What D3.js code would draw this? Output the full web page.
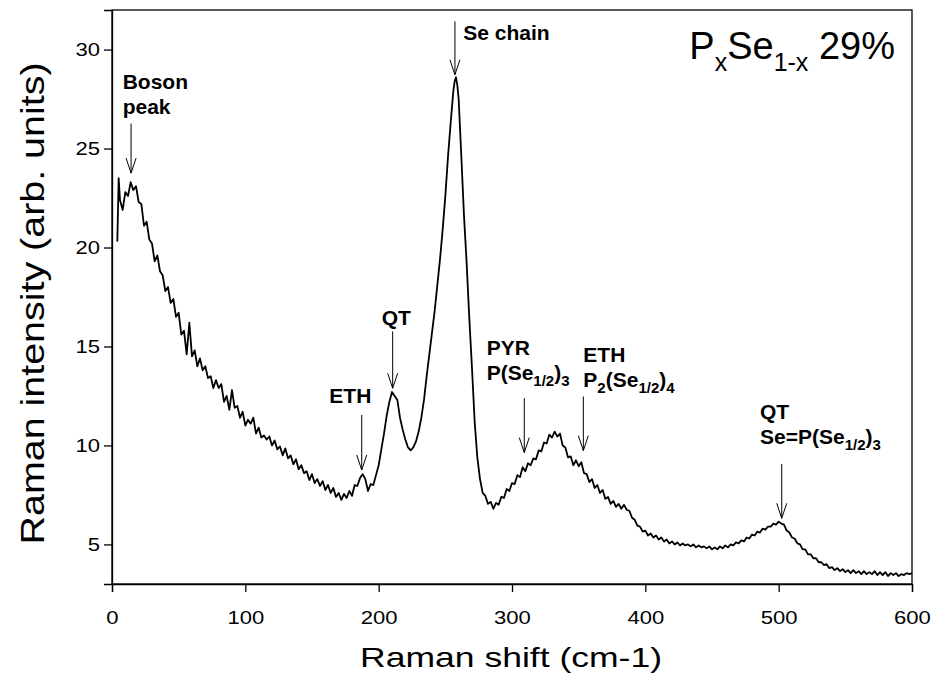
<!DOCTYPE html>
<html><head><meta charset="utf-8">
<script src="https://cdn.jsdelivr.net/npm/d3@7"></script>
<style>body{margin:0;background:#fff}</style>
</head><body>
<svg id="chart" width="936" height="696"></svg>
<script>
// ---- data ----
const ramanShift = [4,5,6,8,10,12,14,16,18,20,22,24,26,28,30,32,34,36,38,40,42,44,46,48,50,52,54,56,58,60,
62,64,66,68,70,72,74,76,78,80,82,84,86,88,90,92,94,96,98,100,102,104,106,108,110,112,114,116,118,120,
122,124,126,128,130,132,134,136,138,140,142,144,146,148,150,152,154,156,158,160,162,164,166,168,170,172,174,176,178,180,
182,184,186,188,190,192,194,196,198,200,202,204,206,208,210,212,214,216,218,220,222,224,226,228,230,232,234,236,238,240,
242,244,246,248,250,252,254,256,257,258,259,260,262,264,266,268,270,272,274,276,278,280,282,284,286,288,290,292,294,296,298,300,
302,304,306,308,310,312,314,316,318,320,322,324,326,328,330,332,334,336,338,340,342,344,346,348,350,352,354,356,358,360,
362,364,366,368,370,372,374,376,378,380,382,384,386,388,390,392,394,396,398,400,402,404,406,408,410,412,414,416,418,420,
422,424,426,428,430,432,434,436,438,440,442,444,446,448,450,452,454,456,458,460,462,464,466,468,470,472,474,476,478,480,
482,484,486,488,490,492,494,496,498,500,502,504,506,508,510,512,514,516,518,520,522,524,526,528,530,532,534,536,538,540,
542,544,546,548,550,552,554,556,558,560,562,564,566,568,570,572,574,576,578,580,582,584,586,588,590,592,594,596,598,600];
const intensity = [20.3,23.5,22.4,21.9,22.8,22.6,23.3,22.9,23.1,22.3,22.2,21.1,21.3,20.4,20.2,19.3,19.6,18.8,18.6,17.8,18.0,17.2,17.4,16.5,16.7,15.6,15.8,14.6,16.2,14.5,
14.8,14.0,14.4,13.8,14.0,13.4,13.5,12.9,13.3,12.9,13.1,12.2,12.5,11.8,12.8,11.9,12.0,11.4,11.7,11.0,11.3,11.1,11.4,10.6,10.9,10.4,10.5,10.3,10.45,10.0,
10.25,9.8,9.95,9.5,9.85,9.35,9.5,9.05,9.3,8.8,9.0,8.6,8.7,8.25,8.55,8.1,8.3,7.95,8.2,7.75,8.0,7.6,7.85,7.4,7.6,7.25,7.55,7.35,7.7,7.45,
8.0,7.95,8.35,8.55,8.3,7.7,8.05,8.0,8.5,9.0,9.8,10.6,11.5,12.2,12.7,12.5,12.3,11.4,10.8,10.3,9.9,9.75,9.9,10.2,10.7,11.4,12.3,13.5,14.6,15.7,
16.8,18.1,19.4,20.9,22.6,24.6,26.3,27.9,28.4,28.6,28.2,27.5,24.6,21.6,19.2,16.4,13.9,11.2,9.4,8.3,7.6,7.45,7.05,7.15,6.8,7.1,7.0,7.4,7.35,7.8,7.7,8.1,
8.05,8.5,8.4,8.9,8.7,9.1,9.0,9.35,9.3,9.75,9.7,10.15,10.1,10.55,10.4,10.7,10.45,10.6,10.0,9.9,9.4,9.45,9.0,9.25,8.95,9.15,8.6,8.55,8.15,8.3,
7.85,8.0,7.6,7.75,7.3,7.4,7.05,7.2,6.9,7.05,6.8,7.0,6.75,6.7,6.35,6.25,5.95,5.9,5.65,5.7,5.45,5.55,5.35,5.45,5.25,5.35,5.15,5.25,5.05,5.15,
5.0,5.1,4.95,5.05,4.95,5.0,4.9,5.0,4.85,4.95,4.85,4.9,4.8,4.9,4.75,4.85,4.75,4.9,4.8,4.95,4.85,5.0,4.95,5.1,5.05,5.2,5.15,5.35,5.3,5.5,
5.45,5.65,5.6,5.8,5.75,5.9,5.9,6.05,6.0,6.15,6.05,6.0,5.7,5.6,5.35,5.3,5.05,5.0,4.75,4.75,4.5,4.5,4.3,4.3,4.1,4.1,3.95,4.0,3.8,3.85,
3.7,3.8,3.65,3.75,3.6,3.7,3.55,3.7,3.55,3.65,3.5,3.65,3.5,3.6,3.5,3.65,3.45,3.6,3.45,3.6,3.4,3.55,3.45,3.55,3.4,3.5,3.45,3.55,3.5,3.55];

const xTicks = [0,100,200,300,400,500,600];
const yTicks = [5,10,15,20,25,30];
const xTitle = "Raman shift (cm-1)";
const yTitle = "Raman intensity (arb. units)";
// title segments: [text, isSubscript]
const titleParts = [["P",false],["x",true],["Se",false],["1-x",true],[" 29%",false]];

// annotations: label lines (segments [text, isSub]), text anchor & arrow in data units
const annotations = [
  {lines:[[["Boson",false]],[["peak",false]]], tx:8.0, ty:28.0, ax:14.3, aTop:26.26, aTip:23.76},
  {lines:[[["Se chain",false]]], tx:263.5, ty:30.5, ax:257.2, aTop:31.43, aTip:28.73},
  {lines:[[["QT",false]]], tx:202.3, ty:16.09, ax:210.5, aTop:15.76, aTip:12.89},
  {lines:[[["ETH",false]]], tx:163.0, ty:12.14, ax:187.3, aTop:11.54, aTip:8.76},
  {lines:[[["PYR",false]],[["P(Se",false],["1/2",true],[")",false],["3",true]]], tx:281.0, ty:14.58, ax:309.2, aTop:12.39, aTip:9.64},
  {lines:[[["ETH",false]],[["P",false],["2",true],["(Se",false],["1/2",true],[")",false],["4",true]]], tx:353.5, ty:14.24, ax:353.5, aTop:12.47, aTip:9.74},
  {lines:[[["QT",false]],[["Se=P(Se",false],["1/2",true],[")",false],["3",true]]], tx:486.0, ty:11.33, ax:502.3, aTop:9.07, aTip:6.32}
];

// ---- drawing ----
const svg = d3.select("#chart");
const pLeft = 112, pRight = 912, pTop = 10, pBottom = 584;
const x = d3.scaleLinear().domain([0,600]).range([pLeft,pRight]);
const y = d3.scaleLinear().domain([3,32]).range([pBottom,pTop]);
const FONT = "Liberation Sans, Arial, Helvetica, sans-serif";

// frame
svg.append("rect").attr("x",pLeft).attr("y",pTop).attr("width",pRight-pLeft).attr("height",pBottom-pTop)
  .attr("fill","none").attr("stroke","#000").attr("stroke-width",1.3);

// axes
const xAxis = svg.append("g").attr("transform",`translate(0,${pBottom})`)
  .call(d3.axisBottom(x).tickValues(xTicks).tickSize(8).tickPadding(19).tickFormat(d3.format("d")));
const yAxis = svg.append("g").attr("transform",`translate(${pLeft},0)`)
  .call(d3.axisLeft(y).tickValues(yTicks).tickSize(8).tickPadding(4).tickFormat(d3.format("d")));
[xAxis,yAxis].forEach(g=>{
  g.select(".domain").attr("stroke","#000").attr("stroke-width",1.3);
  g.selectAll(".tick line").attr("stroke","#000").attr("stroke-width",1.3);
  g.selectAll(".tick text").attr("fill","#000").style("font-family",FONT).style("font-size","19px");
});
xAxis.selectAll(".tick text").attr("transform","scale(1.16,1)");
yAxis.selectAll(".tick text").each(function(){
  const t = d3.select(this); const x0 = +t.attr("x");
  t.attr("x",0).attr("transform",`translate(${x0},0) scale(1.16,1)`);
});

// spectrum
const pts = ramanShift.map((s,i)=>[s,intensity[i]]);
svg.append("path").datum(pts)
  .attr("d",d3.line().x(d=>x(d[0])).y(d=>y(d[1])))
  .attr("fill","none").attr("stroke","#000").attr("stroke-width",1.8).attr("stroke-linejoin","round");

// axis titles
svg.append("text").attr("x",(pLeft+pRight)/2 - 1).attr("y",667).attr("text-anchor","middle")
  .attr("textLength",302).attr("lengthAdjust","spacingAndGlyphs")
  .style("font-family",FONT).style("font-size","28px").text(xTitle);
svg.append("text").attr("transform",`translate(44,${(62+545)/2}) rotate(-90)`).attr("text-anchor","middle")
  .attr("textLength",482).attr("lengthAdjust","spacingAndGlyphs")
  .style("font-family",FONT).style("font-size","33px").text(yTitle);

// segmented text helper
function segText(g, parts, px, py, size, subSize, subShift, weight, anchor){
  const t = g.append("text").attr("x",px).attr("y",py).attr("text-anchor",anchor||"start")
    .style("font-family",FONT).style("font-weight",weight).style("font-size",size+"px").attr("fill","#000");
  let inSub = false;
  parts.forEach(([s,sub])=>{
    const ts = t.append("tspan").text(s);
    if (sub && !inSub) { ts.attr("dy",subShift); }
    if (!sub && inSub) { ts.attr("dy",-subShift); }
    ts.style("font-size",(sub?subSize:size)+"px");
    inSub = sub;
  });
  return t;
}

// title
segText(svg, titleParts, 895, 59, 38, 25, 12, "normal", "end");

// annotations
const ag = svg.append("g");
annotations.forEach(a=>{
  a.lines.forEach((ln,i)=>{
    segText(ag, ln, x(a.tx), y(a.ty) + i*25, 21, 15, 6, "bold", "start");
  });
  const ax = x(a.ax), y0 = y(a.aTop), y1 = y(a.aTip);
  ag.append("line").attr("x1",ax).attr("x2",ax).attr("y1",y0).attr("y2",y1)
    .attr("stroke","#000").attr("stroke-width",1);
  ag.append("path").attr("d",`M${ax-5},${y1-15}L${ax},${y1}L${ax+5},${y1-15}`)
    .attr("fill","none").attr("stroke","#000").attr("stroke-width",1);
});
</script>
</body></html>
